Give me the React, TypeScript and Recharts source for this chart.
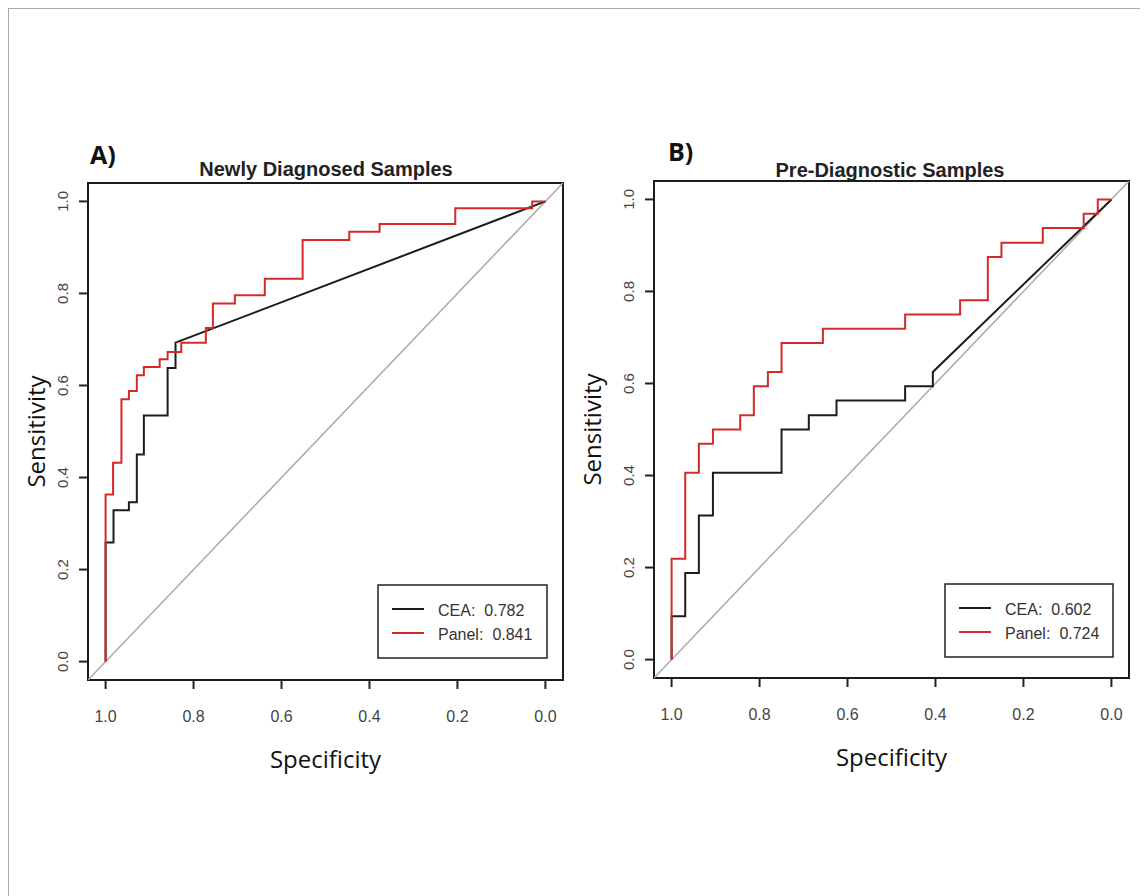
import React from 'react';
import { LineChart, Line, XAxis, YAxis, ReferenceArea, Label } from 'recharts';

// ROC vertices: [specificity, sensitivity]
const newlyCea = [
  [1, 0], [1, 0.259], [0.982, 0.259], [0.982, 0.329], [0.947, 0.329], [0.947, 0.346],
  [0.929, 0.346], [0.929, 0.45], [0.913, 0.45], [0.913, 0.535], [0.859, 0.535],
  [0.859, 0.638], [0.841, 0.638], [0.841, 0.693], [0, 1],
];
const newlyPanel = [
  [1, 0], [1, 0.363], [0.983, 0.363], [0.983, 0.432], [0.964, 0.432], [0.964, 0.57],
  [0.947, 0.57], [0.947, 0.588], [0.929, 0.588], [0.929, 0.622], [0.913, 0.622],
  [0.913, 0.64], [0.877, 0.64], [0.877, 0.657], [0.859, 0.657], [0.859, 0.673],
  [0.828, 0.673], [0.828, 0.693], [0.772, 0.693], [0.772, 0.725], [0.756, 0.725],
  [0.756, 0.778], [0.706, 0.778], [0.706, 0.796], [0.638, 0.796], [0.638, 0.832],
  [0.552, 0.832], [0.552, 0.916], [0.446, 0.916], [0.446, 0.934], [0.377, 0.934],
  [0.377, 0.951], [0.205, 0.951], [0.205, 0.985], [0.03, 0.985], [0.03, 1], [0, 1],
];
const preCea = [
  [1, 0], [1, 0.094], [0.969, 0.094], [0.969, 0.188], [0.938, 0.188], [0.938, 0.313],
  [0.906, 0.313], [0.906, 0.406], [0.75, 0.406], [0.75, 0.5], [0.688, 0.5],
  [0.688, 0.531], [0.625, 0.531], [0.625, 0.563], [0.469, 0.563], [0.469, 0.594],
  [0.406, 0.594], [0.406, 0.625], [0, 1],
];
const prePanel = [
  [1, 0], [1, 0.219], [0.969, 0.219], [0.969, 0.406], [0.938, 0.406], [0.938, 0.469],
  [0.906, 0.469], [0.906, 0.5], [0.844, 0.5], [0.844, 0.531], [0.813, 0.531],
  [0.813, 0.594], [0.781, 0.594], [0.781, 0.625], [0.75, 0.625], [0.75, 0.688],
  [0.656, 0.688], [0.656, 0.719], [0.469, 0.719], [0.469, 0.75], [0.344, 0.75],
  [0.344, 0.781], [0.281, 0.781], [0.281, 0.875], [0.25, 0.875], [0.25, 0.906],
  [0.156, 0.906], [0.156, 0.938], [0.063, 0.938], [0.063, 0.969], [0.031, 0.969],
  [0.031, 1], [0, 1],
];
const chance = [[1.04, -0.04], [-0.04, 1.04]];

const ticks = [0, 0.2, 0.4, 0.6, 0.8, 1.0];
const seriesNames = ['CEA', 'Panel'];
const seriesColors = ['#1c1c1c', '#d42a2a'];
const newlyAuc = ['0.782', '0.841'];
const preAuc = ['0.602', '0.724'];

const toPts = (a: number[][]) => a.map(([spec, sens]) => ({ spec, sens }));

const SANS = '"Liberation Sans", Arial, sans-serif';
const LABEL_FONT = '"Open Sans", sans-serif';

const YTick = (props: any) => {
  const { x, y, payload } = props;
  return (
    <text x={x} y={y} transform={`rotate(-90, ${x}, ${y})`} textAnchor="middle"
      fontSize={15} fill="#444" fontFamily={SANS}>
      {Number(payload.value).toFixed(1)}
    </text>
  );
};

const XTick = (props: any) => {
  const { x, y, payload } = props;
  return (
    <text x={x} y={y} dy="0.71em" textAnchor="middle" fontSize={16} fill="#444" fontFamily={SANS}>
      {Number(payload.value).toFixed(1)}
    </text>
  );
};

interface PanelProps {
  cea: number[][];
  panel: number[][];
  sensShift: number;
}

const RocPanel: React.FC<PanelProps> = ({ cea, panel, sensShift }) => {
  return (
    <LineChart width={572} height={700} margin={{ top: 75, left: 30, right: 17, bottom: 78 }}>
      <XAxis dataKey="spec" type="number" domain={[-0.04, 1.04]} reversed allowDataOverflow
        ticks={ticks} axisLine={false} tickSize={9} tickMargin={22}
        tickLine={{ stroke: '#222', strokeWidth: 2 }} tick={<XTick />} height={50}>
        <Label content={(p: any) => (
          <text x={p.viewBox.x + p.viewBox.width / 2} y={p.viewBox.y + 88} textAnchor="middle"
            fontSize={24} fill="#111" fontFamily={LABEL_FONT}>Specificity</text>
        )} />
      </XAxis>
      <YAxis type="number" domain={[-0.04, 1.04]} allowDataOverflow ticks={ticks}
        axisLine={false} tickSize={9} tickMargin={11} width={50}
        tickLine={{ stroke: '#222', strokeWidth: 2 }} tick={<YTick />}>
        <Label content={(p: any) => {
          const cx = p.viewBox.x + sensShift;
          const cy = p.viewBox.y + p.viewBox.height / 2;
          return (
            <text x={cx} y={cy} transform={`rotate(-90, ${cx}, ${cy})`} textAnchor="middle"
              fontSize={24} fill="#111" fontFamily={LABEL_FONT}>Sensitivity</text>
          );
        }} />
      </YAxis>
      <Line data={toPts(chance)} dataKey="sens" stroke="#aaaaaa" strokeWidth={1.5}
        dot={false} activeDot={false} isAnimationActive={false} />
      <Line data={toPts(cea)} dataKey="sens" stroke={seriesColors[0]} strokeWidth={2}
        dot={false} activeDot={false} isAnimationActive={false} />
      <Line data={toPts(panel)} dataKey="sens" stroke={seriesColors[1]} strokeWidth={2}
        dot={false} activeDot={false} isAnimationActive={false} />
      <ReferenceArea x1={-0.04} x2={1.04} y1={-0.04} y2={1.04} fill="none"
        fillOpacity={0} stroke="#1c1c1c" strokeWidth={2} />
    </LineChart>
  );
};

const LegendBox = ({ x, y, w, h, auc }: { x: number; y: number; w: number; h: number; auc: string[] }) => (
  <g>
    <rect x={x} y={y} width={w} height={h} fill="#fff" stroke="#222" strokeWidth={1.5} />
    {seriesNames.map((name, i) => (
      <g key={name}>
        <line x1={x + 14} x2={x + 46} y1={y + 24 + i * 24} y2={y + 24 + i * 24}
          stroke={seriesColors[i]} strokeWidth={2} />
        <text x={x + 60} y={y + 31 + i * 24} fontSize={16} fill="#333" fontFamily={SANS}>
          {name}:<tspan dx={9}>{auc[i]}</tspan>
        </text>
      </g>
    ))}
  </g>
);

export default function App() {
  return (
    <div style={{ position: 'relative', width: 1140, height: 888, background: '#fff' }}>
      <div style={{ position: 'absolute', left: 0, top: 0, width: 1140, height: 1, background: '#aaa' }} />
      <div style={{ position: 'absolute', left: 0, top: 0, width: 1, height: 888, background: '#aaa' }} />
      <div style={{ position: 'absolute', left: 0, top: 100 }}>
        <RocPanel cea={newlyCea} panel={newlyPanel} sensShift={7} />
      </div>
      <div style={{ position: 'absolute', left: 566, top: 98 }}>
        <RocPanel cea={preCea} panel={prePanel} sensShift={-3} />
      </div>
      <svg width={1140} height={888} style={{ position: 'absolute', left: 0, top: 0, pointerEvents: 'none' }}>
        <text x={82} y={156} fontSize={25} fontWeight={700} fill="#111" fontFamily={LABEL_FONT}>A)</text>
        <text x={660} y={153} fontSize={25} fontWeight={700} fill="#111" fontFamily={LABEL_FONT}>B)</text>
        <text x={318} y={168} textAnchor="middle" fontSize={20} fontWeight={700} fill="#222" fontFamily={SANS}>
          Newly Diagnosed Samples
        </text>
        <text x={882} y={169} textAnchor="middle" fontSize={20} fontWeight={700} fill="#222" fontFamily={SANS}>
          Pre-Diagnostic Samples
        </text>
        <LegendBox x={370} y={577} w={169} h={73} auc={newlyAuc} />
        <LegendBox x={937} y={576} w={168} h={73} auc={preAuc} />
      </svg>
    </div>
  );
}
